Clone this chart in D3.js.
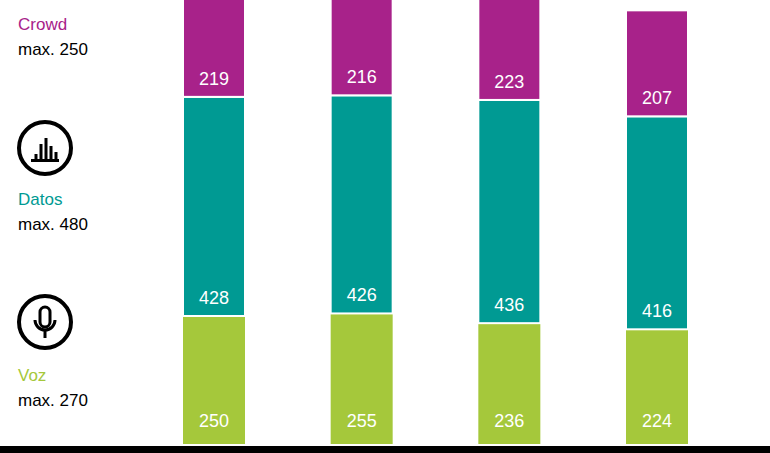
<!DOCTYPE html>
<html><head><meta charset="utf-8">
<script src="https://cdn.jsdelivr.net/npm/d3@7"></script>
<style>body{margin:0;background:#fff}svg{display:block;font-family:"Liberation Sans",Arial,sans-serif}</style>
</head><body><svg id="c" width="770" height="453"></svg>
<script>
const categories = ["P1", "P2", "P3", "P4"];
const voz = [250, 255, 236, 224];
const datos = [428, 426, 436, 416];
const crowd = [219, 216, 223, 207];
const seriesNames = ["Voz", "Datos", "Crowd"];
const seriesMax = ["max. 270", "max. 480", "max. 250"];
const colors = ["#a5c83b", "#009a93", "#a8228a"];

const svg = d3.select("#c");
const x = d3.scalePoint().domain(categories).range([214, 657]);
const y = d3.scaleLinear().domain([0, 1000]).range([444, -68]);
const bw = 62;

const rows = categories.map((c, i) => ({c, v: [voz[i], datos[i], crowd[i]]}));
rows.forEach(r => {
  let base = 0;
  r.v.forEach((v, k) => {
    const y0 = y(base), y1 = y(base + v);
    svg.append("rect").attr("x", x(r.c) - bw / 2).attr("width", bw)
      .attr("y", y1).attr("height", y0 - y1).attr("fill", colors[k])
      .attr("stroke", "#fff").attr("stroke-width", k ? 2 : 0);
    svg.append("text").attr("x", x(r.c)).attr("y", y0 - (k ? 12 : 17))
      .attr("text-anchor", "middle").attr("fill", "#fff").attr("font-size", 18).text(v);
    base += v;
  });
});

svg.append("rect").attr("x", 0).attr("y", 446).attr("width", 770).attr("height", 7).attr("fill", "#000");

// legend
const legY = [375, 199, 24];
seriesNames.forEach((n, k) => {
  svg.append("text").attr("x", 18).attr("y", legY[k] + 6).attr("font-size", 17).attr("fill", colors[k]).text(n);
  svg.append("text").attr("x", 18).attr("y", legY[k] + 31).attr("font-size", 17).attr("fill", "#000").text(seriesMax[k]);
});

// icons
const ic = (cy) => svg.append("g").attr("transform", `translate(45,${cy})`);
[148, 322, -30].forEach(cy => ic(cy).append("circle").attr("r", 26).attr("fill", "none").attr("stroke", "#000").attr("stroke-width", 4));
const g1 = ic(148);
[[-9, 6], [-4, -4], [1, -10], [6, -2], [11, 4]].forEach(([bx, top]) =>
  g1.append("rect").attr("x", bx - 1.5).attr("y", top).attr("width", 3).attr("height", 12 - top).attr("fill", "#000"));
g1.append("rect").attr("x", -14).attr("y", 11).attr("width", 28).attr("height", 3).attr("fill", "#000");
const g2 = ic(322);
g2.append("rect").attr("x", -5).attr("y", -15).attr("width", 10).attr("height", 20).attr("rx", 5).attr("fill", "none").attr("stroke", "#000").attr("stroke-width", 3);
g2.append("path").attr("d", "M-10,-2 A10,10 0 0 0 10,-2 M0,9 V16").attr("fill", "none").attr("stroke", "#000").attr("stroke-width", 3);
</script></body></html>
